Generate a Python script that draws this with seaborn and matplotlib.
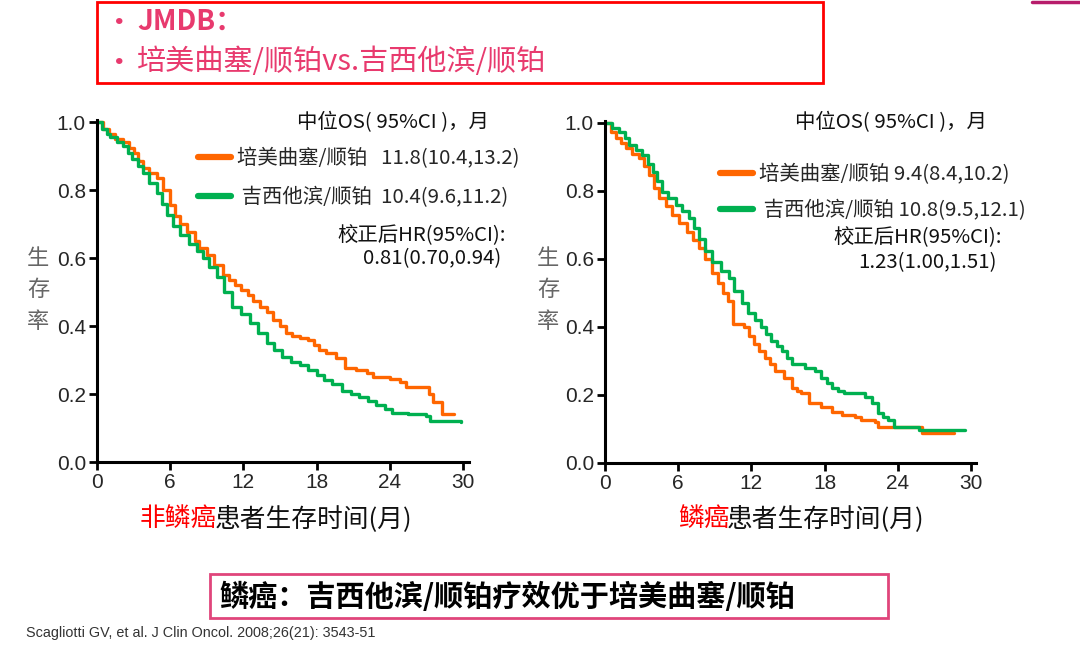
import pandas as pd
import matplotlib
matplotlib.use("Agg")
import matplotlib.pyplot as plt
from matplotlib.lines import Line2D
from matplotlib.patches import Rectangle
import seaborn as sns

# KM curve knots: time (months) and survival after the drop
nsq_pem_t = [0, 0.5, 1.0, 1.5, 2.1, 2.6, 3.0, 3.4, 3.8, 4.3, 4.9, 5.4, 6.0, 6.4, 6.8, 7.4, 8.0, 8.4,
             9.0, 9.6, 10.3, 10.8, 11.3, 11.8, 12.4, 12.8, 13.4, 13.9, 14.4, 15.0, 15.5, 16.0, 16.6,
             17.3, 17.8, 18.2, 18.8, 19.6, 20.3, 21.2, 22.1, 22.6, 24.0, 24.8, 25.3, 27.2, 27.5, 28.3, 29.3]
nsq_pem_s = [1.0, 0.98, 0.965, 0.95, 0.94, 0.925, 0.91, 0.885, 0.865, 0.85, 0.835, 0.80, 0.756, 0.725,
             0.70, 0.675, 0.65, 0.63, 0.61, 0.58, 0.55, 0.535, 0.52, 0.505, 0.49, 0.475, 0.455, 0.44,
             0.418, 0.40, 0.38, 0.37, 0.365, 0.36, 0.345, 0.33, 0.32, 0.306, 0.276, 0.27, 0.262, 0.25,
             0.245, 0.235, 0.22, 0.20, 0.176, 0.14, 0.14]

nsq_gem_t = [0, 0.4, 0.8, 1.1, 1.6, 2.1, 2.5, 2.9, 3.4, 3.8, 4.3, 4.9, 5.3, 5.7, 6.2, 6.8, 7.5, 8.2,
             8.7, 9.2, 9.8, 10.4, 11.1, 11.8, 12.5, 13.2, 13.9, 14.5, 15.2, 15.9, 16.6, 17.3, 18.0,
             18.6, 19.3, 20.1, 20.8, 21.5, 22.2, 22.9, 23.6, 24.2, 25.5, 27.0, 27.3, 29.8]
nsq_gem_s = [1.0, 0.98, 0.965, 0.955, 0.94, 0.93, 0.91, 0.89, 0.87, 0.85, 0.82, 0.79, 0.76, 0.726,
             0.695, 0.667, 0.64, 0.62, 0.60, 0.575, 0.545, 0.50, 0.456, 0.435, 0.41, 0.38, 0.35, 0.33,
             0.31, 0.295, 0.285, 0.27, 0.256, 0.24, 0.23, 0.21, 0.20, 0.19, 0.18, 0.168, 0.155, 0.143,
             0.14, 0.135, 0.12, 0.118]

sq_pem_t = [0, 0.5, 0.9, 1.3, 1.7, 2.2, 2.8, 3.2, 3.6, 4.0, 4.4, 5.0, 5.5, 6.1, 6.7, 7.2, 7.7, 8.2,
            8.8, 9.3, 9.7, 10.1, 10.5, 11.4, 11.8, 12.2, 12.6, 13.1, 13.5, 13.9, 14.7, 15.3, 15.7,
            16.1, 16.7, 17.7, 18.6, 19.4, 20.5, 21.0, 22.1, 22.4, 26.0, 28.6]
sq_pem_s = [1.0, 0.975, 0.956, 0.94, 0.926, 0.91, 0.897, 0.875, 0.847, 0.81, 0.78, 0.755, 0.73, 0.705,
            0.68, 0.655, 0.632, 0.60, 0.56, 0.53, 0.50, 0.476, 0.41, 0.40, 0.375, 0.35, 0.33, 0.31,
            0.29, 0.27, 0.25, 0.22, 0.213, 0.205, 0.176, 0.165, 0.15, 0.14, 0.135, 0.126, 0.12, 0.106,
            0.088, 0.088]

sq_gem_t = [0, 0.6, 1.15, 1.6, 2.0, 2.5, 3.0, 3.5, 3.9, 4.3, 4.7, 5.2, 5.8, 6.3, 6.9, 7.3, 7.7, 8.2,
            8.8, 9.5, 10.2, 10.6, 11.2, 11.75, 12.3, 12.8, 13.2, 13.6, 14.1, 14.5, 14.9, 15.3, 16.4,
            17.2, 17.7, 18.2, 18.6, 19.1, 19.6, 21.3, 21.9, 22.4, 22.8, 23.2, 23.7, 25.7, 29.5]
sq_gem_s = [1.0, 0.985, 0.974, 0.955, 0.935, 0.92, 0.906, 0.88, 0.856, 0.83, 0.797, 0.78, 0.76, 0.74,
            0.72, 0.69, 0.66, 0.625, 0.59, 0.565, 0.545, 0.506, 0.47, 0.44, 0.42, 0.40, 0.38, 0.36,
            0.345, 0.33, 0.31, 0.29, 0.28, 0.27, 0.25, 0.235, 0.22, 0.212, 0.205, 0.195, 0.176, 0.147,
            0.135, 0.126, 0.106, 0.098, 0.098]

arms = ["培美曲塞/顺铂", "吉西他滨/顺铂"]
colors = {"培美曲塞/顺铂": "#FF6600", "吉西他滨/顺铂": "#00B050"}
nsq_median = ["11.8(10.4,13.2)", "10.4(9.6,11.2)"]
sq_median = ["9.4(8.4,10.2)", "10.8(9.5,12.1)"]
nsq_hr = "0.81(0.70,0.94)"
sq_hr = "1.23(1.00,1.51)"
x_ticks = [0, 6, 12, 18, 24, 30]
y_ticks = [0.0, 0.2, 0.4, 0.6, 0.8, 1.0]

sns.set_style("ticks")
plt.rcParams["font.family"] = ["Noto Sans CJK SC", "DejaVu Sans"]

W, H = 1080, 650
fig = plt.figure(figsize=(10.8, 6.5), dpi=100)


def fx(x):
    return x / W


def fy(y):
    return 1 - y / H


def make_df(pem_t, pem_s, gem_t, gem_s):
    a = pd.DataFrame({"time": pem_t, "surv": pem_s, "arm": arms[0]})
    b = pd.DataFrame({"time": gem_t, "surv": gem_s, "arm": arms[1]})
    return pd.concat([a, b], ignore_index=True)


def draw_panel(x0, x30, xend, y0, y1, ytop, df):
    ax = fig.add_axes([fx(x0), fy(y0), (xend - x0) / W, (y0 - ytop) / H])
    sns.lineplot(data=df, x="time", y="surv", hue="arm", palette=colors, estimator=None,
                 sort=False, drawstyle="steps-post", lw=2.4, legend=False, ax=ax)
    ax.set_xlim(0, 30 * (xend - x0) / (x30 - x0))
    ax.set_ylim(0, (y0 - ytop) / (y0 - y1))
    ax.set_xticks(x_ticks)
    ax.set_yticks(y_ticks)
    ax.set_yticklabels([f"{v:.1f}" for v in y_ticks])
    ax.set_xlabel("")
    ax.set_ylabel("")
    sns.despine(ax=ax)
    for s in ["left", "bottom"]:
        ax.spines[s].set_linewidth(2.2)
        ax.spines[s].set_color("black")
    ax.tick_params(length=6, width=2, labelsize=15, color="black", pad=2)
    for lab in ax.get_xticklabels() + ax.get_yticklabels():
        lab.set_fontfamily(["Liberation Sans", "DejaVu Sans"])
    return ax


# left panel: non-squamous
axl = draw_panel(97, 463, 469, 462, 122, 120,
                 make_df(nsq_pem_t, nsq_pem_s, nsq_gem_t, nsq_gem_s))
# right panel: squamous
axr = draw_panel(605, 971, 976, 463, 123, 121,
                 make_df(sq_pem_t, sq_pem_s, sq_gem_t, sq_gem_s))

handles = [Line2D([], [], color=colors[a], lw=4.5) for a in arms]

axl.legend(handles, [arms[0] + "   " + nsq_median[0], " " + arms[1] + "  " + nsq_median[1]],
           loc="upper left", bbox_to_anchor=(fx(198), fy(148)), bbox_transform=fig.transFigure,
           frameon=False, fontsize=14.7, handlelength=1.6, handletextpad=0.3, labelspacing=0.85,
           borderpad=0, borderaxespad=0)
axr.legend(handles, [arms[0] + " " + sq_median[0], " " + arms[1] + " " + sq_median[1]],
           loc="upper left", bbox_to_anchor=(fx(720), fy(164)), bbox_transform=fig.transFigure,
           frameon=False, fontsize=14.7, handlelength=1.6, handletextpad=0.3, labelspacing=0.7,
           borderpad=0, borderaxespad=0)

# legend headers and HR notes
for x, y, s in [(297, 123, "中位OS( 95%CI )，月"), (337, 236, "校正后HR(95%CI):"), (363, 259, nsq_hr),
                (795, 123, "中位OS( 95%CI )，月"), (833, 238, "校正后HR(95%CI):"), (858, 263, sq_hr)]:
    fig.text(fx(x), fy(y), s, fontsize=14.7, ha="left", va="center", color="#111111")

# y labels, stacked characters
for x in [38, 548]:
    fig.text(fx(x), fy(290), "生\n存\n率", ha="center", va="center", fontsize=16,
             linespacing=1.45, color="#666666")

# x labels, red prefix + black rest
for x, red in [(140, "非鳞癌"), (678, "鳞癌")]:
    t1 = fig.text(fx(x), fy(519), red, color="#FF0000", fontsize=18.5, ha="left", va="center")
    axl.annotate("患者生存时间(月)", xy=(1, 0), xycoords=t1, xytext=(-2, 0),
                 textcoords="offset points", ha="left", va="bottom",
                 fontsize=18.5, color="#111111", annotation_clip=False)

# title box
pink = "#E83A6E"
fig.add_artist(Rectangle((fx(97), fy(83)), (823 - 97) / W, (83 - 2) / H, transform=fig.transFigure,
                         fill=False, edgecolor="#FF0000", lw=2))
fig.text(fx(104), fy(24), "•", color=pink, fontsize=22, ha="left", va="center")
fig.text(fx(137), fy(22), "JMDB：", color=pink, fontsize=20, fontweight="bold", ha="left", va="center")
fig.text(fx(104), fy(64), "•", color=pink, fontsize=22, ha="left", va="center")
fig.text(fx(137), fy(62), "培美曲塞/顺铂vs.吉西他滨/顺铂", color=pink, fontsize=21, ha="left", va="center")

# top-right accent line
fig.add_artist(Line2D([fx(1032), 1.0], [fy(1.5), fy(1.5)], transform=fig.transFigure,
                      color="#B71C6B", lw=2.5))

# conclusion box
fig.add_artist(Rectangle((fx(210), fy(618)), (888 - 210) / W, (618 - 574) / H,
                         transform=fig.transFigure, fill=False, edgecolor="#E0457B", lw=2))
fig.text(fx(219), fy(597), "鳞癌：吉西他滨/顺铂疗效优于培美曲塞/顺铂", fontsize=21, fontweight="bold",
         ha="left", va="center", color="black")

fig.text(fx(26), fy(633), "Scagliotti GV, et al. J Clin Oncol. 2008;26(21): 3543-51", fontsize=10.4,
         family=["Liberation Sans Narrow", "Liberation Sans", "DejaVu Sans"], ha="left", va="center",
         color="#333333")

fig.savefig("out.png", dpi=100)
